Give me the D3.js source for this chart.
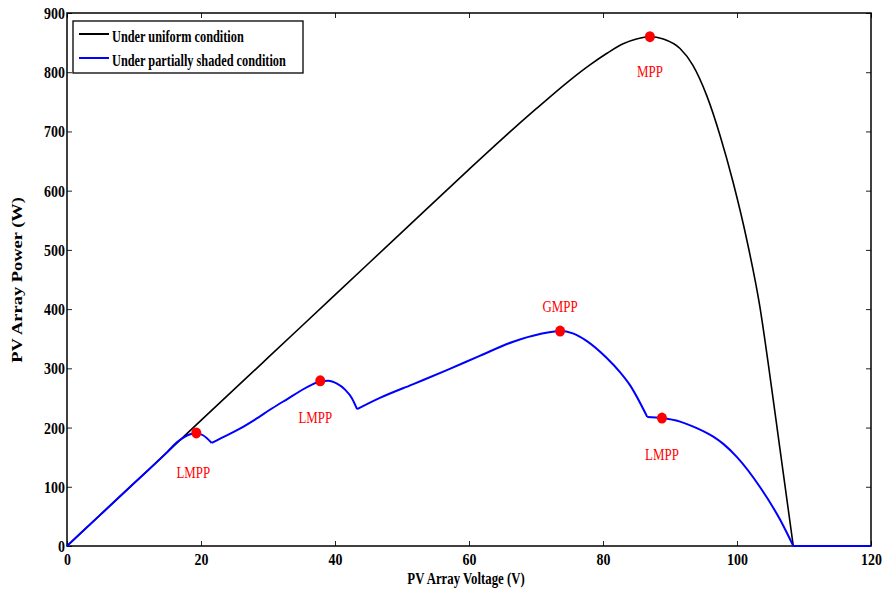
<!DOCTYPE html>
<html>
<head>
<meta charset="utf-8">
<script src="https://d3js.org/d3.v7.min.js"></script>
<style>
  body { margin: 0; background: #fff; }
  text { font-family: "Liberation Serif", "Times New Roman", serif; }
  .tick text { font-size: 17px; font-weight: bold; }
</style>
</head>
<body>
<div id="chart"></div>
<script>
// uniform condition curve (V, W)
var uniformV = [0, 10, 20, 30, 40, 50, 60, 65, 70, 75, 78, 80.6, 83, 85, 87, 89, 91.5, 93.4, 95.5, 97.5, 99.4, 101.5, 103.4, 104.7, 106.4, 108.4, 120];
var uniformP = [0, 106, 212, 318, 424, 530, 636, 688, 738, 786, 812, 832, 848, 856, 860, 856, 840, 812, 760, 692, 615, 515, 405, 305, 165, 0, 0];
var uniformCorners = [108.4];

// partially shaded curve
var shadedV = [0, 5, 10, 15, 16.4, 17.5, 18.5, 19.3, 20.3, 21.6, 23, 25.8, 28, 30.7, 33, 35, 36.5, 37.8, 39, 40.3, 41.5, 42.5, 43.3, 46.7, 51.6, 56.7, 61.6, 66.6, 70.6, 73.6, 75.5, 77.6, 80.6, 82.5, 84, 86.6, 88.8, 91.5, 94, 96.4, 98, 100, 103.4, 106.4, 108.4, 120];
var shadedP = [0, 53, 106, 159, 175, 184, 189, 191, 187, 174, 182, 198, 213, 233, 249, 263, 272, 278, 279, 274, 264, 250, 231, 250, 273, 297, 321, 345, 358, 363, 359, 346, 317, 294, 272, 218, 216, 210, 199, 185, 172, 150, 100, 45, 0, 0];
var shadedCorners = [21.6, 43.3, 86.6, 108.4];

// marked power points
var markV = [87, 73.6, 19.3, 37.8, 88.8];
var markP = [860, 363, 191, 279, 216];
var markLabel = ["MPP", "GMPP", "LMPP", "LMPP", "LMPP"];
var labelDx = [0, 0, -3, -5, 0];
var labelDy = [40, -19, 45, 42, 42];

var xTicks = [0, 20, 40, 60, 80, 100, 120];
var yTicks = [0, 100, 200, 300, 400, 500, 600, 700, 800, 900];

var W = 882, H = 594;
var margin = {top: 13, right: 11, bottom: 48, left: 67};
var width = W - margin.left - margin.right,
    height = H - margin.top - margin.bottom;

var svg = d3.select("#chart").append("svg")
  .attr("width", W).attr("height", H);
var g = svg.append("g")
  .attr("transform", "translate(" + margin.left + "," + margin.top + ")");

var x = d3.scaleLinear().domain([0, 120]).range([0, width]);
var y = d3.scaleLinear().domain([0, 900]).range([height, 0]);

// axes with inward ticks, mirrored on top and right
g.append("g").attr("transform", "translate(0," + height + ")")
  .call(d3.axisBottom(x).tickValues(xTicks).tickSizeInner(-5).tickSizeOuter(0).tickPadding(7))
  .call(a => a.select(".domain").remove())
  .call(a => a.selectAll("text").attr("transform", "scale(0.82,1)"));
g.append("g")
  .call(d3.axisLeft(y).tickValues(yTicks).tickSizeInner(-5).tickSizeOuter(0))
  .call(a => a.select(".domain").remove())
  .call(a => a.selectAll("text").attr("x", 0).attr("transform", "translate(-2,0) scale(0.82,1)"));
g.append("g")
  .call(d3.axisTop(x).tickValues(xTicks).tickSizeInner(-5).tickSizeOuter(0).tickFormat(""))
  .call(a => a.select(".domain").remove());
g.append("g").attr("transform", "translate(" + width + ",0)")
  .call(d3.axisRight(y).tickValues(yTicks).tickSizeInner(-5).tickSizeOuter(0).tickFormat(""))
  .call(a => a.select(".domain").remove());
g.selectAll(".tick line").attr("stroke", "#222");

g.append("rect")
  .attr("width", width).attr("height", height)
  .attr("fill", "none").attr("stroke", "#000").attr("stroke-width", 1.5);

var line = d3.line().x(d => x(d[0])).y(d => y(d[1])).curve(d3.curveMonotoneX);

// split a curve at its sharp corners so the smoothing keeps them sharp
function pieces(vs, ps, corners) {
  var out = [], cur = [];
  vs.forEach(function(v, i) {
    cur.push([v, ps[i]]);
    if (corners.indexOf(v) >= 0) { out.push(cur); cur = [[v, ps[i]]]; }
  });
  out.push(cur);
  return out;
}

g.selectAll(".uni").data(pieces(uniformV, uniformP, uniformCorners)).enter().append("path")
  .attr("d", line).attr("fill", "none")
  .attr("stroke", "#000").attr("stroke-width", 1.6);

g.selectAll(".shd").data(pieces(shadedV, shadedP, shadedCorners)).enter().append("path")
  .attr("d", line).attr("fill", "none")
  .attr("stroke", "#0000ff").attr("stroke-width", 2);

// red markers and labels
var marks = d3.range(markV.length);
g.selectAll(".mark").data(marks).enter().append("ellipse")
  .attr("cx", i => x(markV[i])).attr("cy", i => y(markP[i]))
  .attr("rx", 5).attr("ry", 5.5).attr("fill", "#ff0000");
g.selectAll(".mlabel").data(marks).enter().append("text")
  .attr("transform", i => "translate(" + (x(markV[i]) + labelDx[i]) + "," + (y(markP[i]) + labelDy[i]) + ") scale(0.76,1)")
  .attr("text-anchor", "middle")
  .attr("fill", "#ff0000").style("font-size", "17px")
  .text(i => markLabel[i]);

// legend
var legend = g.append("g").attr("transform", "translate(6,8)");
legend.append("rect").attr("width", 230).attr("height", 52)
  .attr("fill", "#fff").attr("stroke", "#000").attr("stroke-width", 1.3);
var legItems = [["Under uniform condition", "#000"], ["Under partially shaded condition", "#0000ff"]];
legItems.forEach(function(d, i) {
  var ly = 13 + i * 24;
  legend.append("line").attr("x1", 6).attr("x2", 36).attr("y1", ly).attr("y2", ly)
    .attr("stroke", d[1]).attr("stroke-width", 2);
  legend.append("text")
    .attr("transform", "translate(39," + (ly + 8) + ") scale(0.77,1)")
    .style("font-size", "16px").style("font-weight", "bold")
    .text(d[0]);
});

// axis titles
svg.append("text")
  .attr("transform", "translate(466,584) scale(0.8,1)")
  .attr("text-anchor", "middle")
  .style("font-size", "16px").style("font-weight", "bold")
  .text("PV Array Voltage (V)");
svg.append("text")
  .attr("transform", "translate(22,280) rotate(-90) scale(1.23,1)")
  .attr("text-anchor", "middle")
  .style("font-size", "15px").style("font-weight", "bold")
  .text("PV Array Power (W)");
</script>
</body>
</html>
